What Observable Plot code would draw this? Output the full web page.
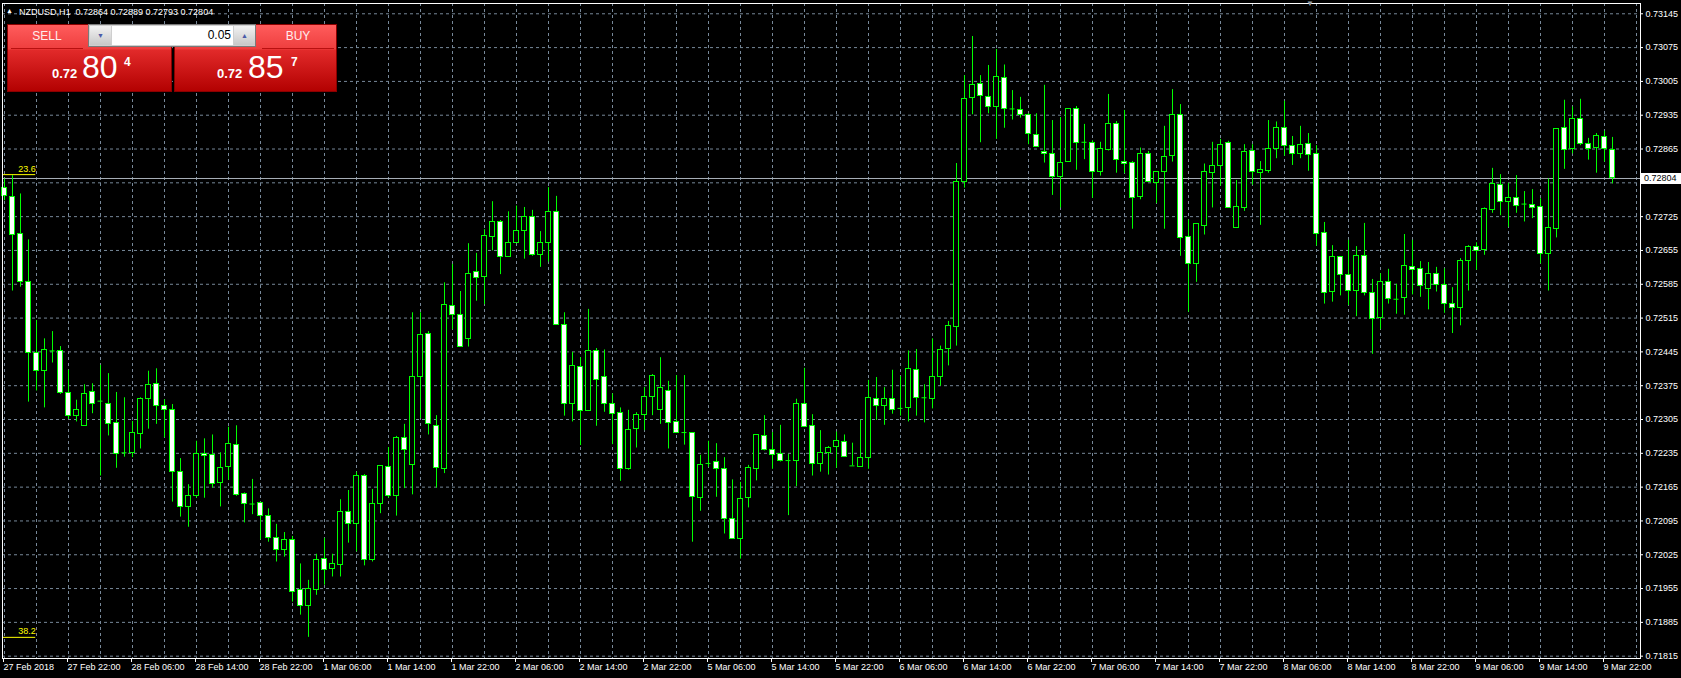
<!DOCTYPE html>
<html>
<head>
<meta charset="utf-8">
<script src="https://cdn.jsdelivr.net/npm/d3@7"></script>
<script src="https://cdn.jsdelivr.net/npm/@observablehq/plot@0.6"></script>
<style>
html,body{margin:0;padding:0;background:#000;}
#wrap{position:relative;width:1681px;height:678px;overflow:hidden;background:#000;font-family:"Liberation Sans",Arial,sans-serif;}
#chart svg{display:block;}
.abs{position:absolute;white-space:pre;}
.title{left:19px;top:6px;color:#fff;font-size:9px;line-height:12px;}
.tri{left:6px;top:7px;color:#fff;font-size:7px;line-height:8px;}
.shift{left:1306px;top:0px;color:#9aa0a8;font-size:8px;line-height:8px;}
.box{position:absolute;top:24px;height:68px;box-sizing:border-box;border:1px solid #8a0000;
 background:linear-gradient(#ff5c5c 0px,#ee3e3e 24px,#e22a2a 25px,#b20000 67px);}
.hdr{position:absolute;top:24px;height:25px;color:#ffecec;font-size:12px;line-height:24px;text-align:center;}
.hline{position:absolute;top:48px;height:1px;background:#b81010;}
.lot{position:absolute;left:88px;top:24px;width:168px;height:23px;box-sizing:border-box;background:#cfcfcf;border:1px solid #7a7a7a;}
.btn{position:absolute;top:26px;width:21px;height:19px;background:linear-gradient(#f2f2f2,#c8c8c8);color:#4a5aa8;font-size:7px;line-height:19px;text-align:center;}
.inp{position:absolute;left:112px;top:26px;width:121px;height:19px;background:#fff;color:#000;font-size:12px;line-height:19px;text-align:right;box-sizing:border-box;padding-right:2px;}
.small{font-size:13px;font-weight:bold;color:#fff;line-height:13px;}
.big{font-size:32px;color:#fff;line-height:32px;}
.sup{font-size:12px;font-weight:bold;color:#fff;line-height:12px;}
</style>
</head>
<body>
<div id="wrap">
  <div id="chart"></div>
  <div class="abs tri">▲</div>
  <div class="abs title">NZDUSD,H1  0.72864 0.72889 0.72793 0.72804</div>
  <div class="abs shift">▼</div>

  <div class="box" style="left:7px;width:165px;"></div>
  <div class="box" style="left:174px;width:163px;"></div>
  <div class="hdr" style="left:7px;width:80px;">SELL</div>
  <div class="hdr" style="left:259px;width:78px;">BUY</div>
  <div class="hline" style="left:11px;width:72px;"></div>
  <div class="hline" style="left:262px;width:72px;"></div>
  <div class="lot"></div>
  <div class="btn" style="left:90px;">▼</div>
  <div class="inp">0.05</div>
  <div class="btn" style="left:234px;">▲</div>

  <div class="abs small" style="left:52px;top:67px;">0.72</div>
  <div class="abs big" style="left:82px;top:51px;">80</div>
  <div class="abs sup" style="left:124px;top:56px;">4</div>
  <div class="abs small" style="left:217px;top:67px;">0.72</div>
  <div class="abs big" style="left:248px;top:51px;">85</div>
  <div class="abs sup" style="left:291px;top:56px;">7</div>
</div>
<script>
// Hourly NZDUSD bars, 27 Feb 2018 14:00 .. 9 Mar 2018 23:00 (bar index 0..201)
const opens = [
0.72785,0.72765,0.72689,0.72589,0.72442,0.72405,0.72447,0.72447,0.72360,0.72313,
0.72291,0.72362,0.72343,0.72338,0.72298,0.72236,0.72236,0.72276,0.72347,0.72379,
0.72333,0.72325,0.72196,0.72124,0.72146,0.72234,0.72232,0.72173,0.72206,0.72253,
0.72150,0.72130,0.72132,0.72105,0.72060,0.72035,0.72055,0.71951,0.71918,0.71951,
0.72017,0.71995,0.72004,0.72114,0.72089,0.72189,0.72015,0.72131,0.72207,0.72146,
0.72267,0.72211,0.72393,0.72483,0.72292,0.72203,0.72540,0.72522,0.72472,0.72611,
0.72600,0.72683,0.72714,0.72642,0.72671,0.72696,0.72725,0.72645,0.72671,0.72735,
0.72501,0.72338,0.72414,0.72323,0.72447,0.72393,0.72338,0.72319,0.72203,0.72286,
0.72315,0.72352,0.72325,0.72364,0.72300,0.72278,0.72277,0.72143,0.72214,0.72217,
0.72203,0.72100,0.72058,0.72143,0.72203,0.72271,0.72242,0.72233,0.72220,0.72220,
0.72338,0.72291,0.72213,0.72236,0.72249,0.72259,0.72209,0.72207,0.72225,0.72348,
0.72333,0.72348,0.72328,0.72329,0.72408,0.72350,0.72348,0.72394,0.72452,0.72496,
0.72797,0.72971,0.73000,0.72973,0.72953,0.73012,0.72948,0.72946,0.72935,0.72895,
0.72859,0.72855,0.72807,0.72838,0.72948,0.72879,0.72878,0.72818,0.72863,0.72917,
0.72839,0.72836,0.72766,0.72855,0.72795,0.72817,0.72851,0.72936,0.72683,0.72627,
0.72706,0.72816,0.72830,0.72878,0.72702,0.72743,0.72861,0.72816,0.72819,0.72866,
0.72909,0.72872,0.72855,0.72876,0.72855,0.72692,0.72569,0.72642,0.72604,0.72572,
0.72644,0.72567,0.72516,0.72590,0.72554,0.72557,0.72621,0.72617,0.72576,0.72606,
0.72584,0.72545,0.72536,0.72634,0.72663,0.72656,0.72739,0.72791,0.72755,0.72764,
0.72751,0.72749,0.72745,0.72648,0.72700,0.72909,0.72865,0.72928,0.72875,0.72868,
0.72890,0.72864];
const highs = [
0.72803,0.72810,0.72772,0.72677,0.72510,0.72472,0.72487,0.72456,0.72407,0.72345,
0.72377,0.72379,0.72417,0.72400,0.72361,0.72350,0.72301,0.72350,0.72405,0.72410,
0.72346,0.72336,0.72224,0.72170,0.72260,0.72265,0.72273,0.72236,0.72289,0.72292,
0.72153,0.72181,0.72134,0.72120,0.72088,0.72071,0.72063,0.72006,0.71972,0.72026,
0.72059,0.72026,0.72139,0.72158,0.72196,0.72191,0.72160,0.72209,0.72247,0.72270,
0.72295,0.72526,0.72526,0.72487,0.72313,0.72588,0.72626,0.72570,0.72669,0.72649,
0.72698,0.72756,0.72717,0.72735,0.72747,0.72744,0.72738,0.72694,0.72785,0.72767,
0.72526,0.72444,0.72433,0.72533,0.72452,0.72449,0.72358,0.72329,0.72324,0.72319,
0.72371,0.72398,0.72433,0.72384,0.72396,0.72396,0.72277,0.72231,0.72260,0.72255,
0.72226,0.72180,0.72175,0.72210,0.72273,0.72313,0.72278,0.72293,0.72233,0.72347,
0.72411,0.72315,0.72282,0.72249,0.72279,0.72273,0.72256,0.72303,0.72386,0.72392,
0.72371,0.72407,0.72394,0.72447,0.72450,0.72377,0.72472,0.72457,0.72508,0.72835,
0.73017,0.73098,0.73017,0.73038,0.73071,0.73039,0.72986,0.72972,0.72938,0.72938,
0.72997,0.72924,0.72930,0.72948,0.72953,0.72916,0.72882,0.72879,0.72978,0.72922,
0.72945,0.72839,0.72867,0.72860,0.72817,0.72912,0.72988,0.72957,0.72718,0.72710,
0.72834,0.72879,0.72885,0.72881,0.72800,0.72874,0.72874,0.72839,0.72924,0.72921,
0.72964,0.72891,0.72912,0.72897,0.72872,0.72713,0.72665,0.72642,0.72676,0.72663,
0.72711,0.72595,0.72607,0.72616,0.72585,0.72688,0.72676,0.72632,0.72630,0.72620,
0.72617,0.72578,0.72638,0.72665,0.72671,0.72743,0.72825,0.72812,0.72794,0.72810,
0.72777,0.72781,0.72762,0.72803,0.72907,0.72966,0.72952,0.72968,0.72887,0.72897,
0.72902,0.72889];
const lows = [
0.72758,0.72571,0.72579,0.72341,0.72364,0.72329,0.72422,0.72357,0.72305,0.72300,
0.72291,0.72317,0.72188,0.72271,0.72204,0.72227,0.72226,0.72244,0.72285,0.72295,
0.72267,0.72134,0.72103,0.72082,0.72142,0.72142,0.72163,0.72124,0.72179,0.72146,
0.72091,0.72108,0.72056,0.72051,0.72010,0.72020,0.71927,0.71900,0.71854,0.71941,
0.71962,0.71979,0.71979,0.72049,0.72031,0.72002,0.72010,0.72110,0.72142,0.72105,
0.72162,0.72149,0.72307,0.72273,0.72163,0.72193,0.72491,0.72456,0.72455,0.72550,
0.72543,0.72654,0.72605,0.72642,0.72671,0.72637,0.72643,0.72620,0.72631,0.72501,
0.72312,0.72300,0.72251,0.72323,0.72291,0.72320,0.72253,0.72177,0.72200,0.72246,
0.72282,0.72313,0.72295,0.72244,0.72278,0.72252,0.72051,0.72115,0.72206,0.72144,
0.72068,0.72058,0.72016,0.72122,0.72178,0.72240,0.72202,0.72217,0.72106,0.72166,
0.72290,0.72188,0.72196,0.72190,0.72204,0.72227,0.72209,0.72207,0.72202,0.72303,
0.72293,0.72316,0.72312,0.72300,0.72312,0.72298,0.72327,0.72374,0.72416,0.72457,
0.72784,0.72936,0.72878,0.72938,0.72885,0.72908,0.72925,0.72929,0.72874,0.72870,
0.72836,0.72769,0.72743,0.72838,0.72821,0.72843,0.72763,0.72809,0.72861,0.72815,
0.72814,0.72699,0.72760,0.72797,0.72752,0.72699,0.72838,0.72643,0.72527,0.72589,
0.72687,0.72743,0.72788,0.72743,0.72702,0.72736,0.72790,0.72707,0.72815,0.72845,
0.72850,0.72831,0.72845,0.72819,0.72664,0.72544,0.72548,0.72561,0.72541,0.72518,
0.72561,0.72440,0.72491,0.72544,0.72523,0.72521,0.72563,0.72558,0.72532,0.72569,
0.72525,0.72483,0.72499,0.72571,0.72614,0.72645,0.72732,0.72727,0.72703,0.72732,
0.72714,0.72721,0.72627,0.72571,0.72681,0.72823,0.72855,0.72872,0.72842,0.72815,
0.72838,0.72793];
const closes = [
0.72767,0.72687,0.72589,0.72442,0.72405,0.72449,0.72447,0.72360,0.72313,0.72324,
0.72358,0.72338,0.72343,0.72296,0.72234,0.72236,0.72277,0.72348,0.72377,0.72333,
0.72325,0.72196,0.72124,0.72146,0.72234,0.72229,0.72172,0.72205,0.72255,0.72149,
0.72131,0.72130,0.72105,0.72060,0.72035,0.72055,0.71948,0.71918,0.71955,0.72015,
0.71993,0.72005,0.72114,0.72088,0.72189,0.72015,0.72131,0.72209,0.72146,0.72267,
0.72241,0.72393,0.72480,0.72296,0.72205,0.72543,0.72522,0.72456,0.72607,0.72598,
0.72685,0.72714,0.72642,0.72671,0.72696,0.72725,0.72645,0.72671,0.72735,0.72501,
0.72338,0.72416,0.72323,0.72447,0.72387,0.72338,0.72317,0.72203,0.72284,0.72315,
0.72352,0.72396,0.72371,0.72298,0.72278,0.72278,0.72144,0.72211,0.72214,0.72203,
0.72100,0.72058,0.72141,0.72205,0.72273,0.72242,0.72232,0.72220,0.72220,0.72338,
0.72290,0.72213,0.72236,0.72246,0.72260,0.72227,0.72209,0.72226,0.72350,0.72333,
0.72347,0.72325,0.72328,0.72409,0.72350,0.72350,0.72394,0.72449,0.72499,0.72797,
0.72969,0.72998,0.72975,0.72953,0.73015,0.72948,0.72948,0.72935,0.72897,0.72870,
0.72854,0.72807,0.72837,0.72948,0.72878,0.72879,0.72818,0.72866,0.72917,0.72843,
0.72834,0.72764,0.72855,0.72797,0.72817,0.72849,0.72936,0.72681,0.72627,0.72710,
0.72818,0.72830,0.72874,0.72743,0.72745,0.72859,0.72818,0.72821,0.72866,0.72909,
0.72872,0.72855,0.72874,0.72853,0.72690,0.72567,0.72642,0.72605,0.72572,0.72644,
0.72567,0.72514,0.72590,0.72555,0.72554,0.72623,0.72615,0.72582,0.72607,0.72584,
0.72545,0.72536,0.72634,0.72663,0.72654,0.72740,0.72793,0.72755,0.72764,0.72748,
0.72751,0.72743,0.72648,0.72702,0.72907,0.72863,0.72928,0.72876,0.72866,0.72892,
0.72866,0.72804];

const yTicks = [0.71815,0.71885,0.71955,0.72025,0.72095,0.72165,0.72235,0.72305,0.72375,0.72445,
                0.72515,0.72585,0.72655,0.72725,0.72795,0.72865,0.72935,0.73005,0.73075,0.73145];
const hiddenYTick = 0.72795;   // covered by the current price tag in the original
const xTickBars = [0,8,16,24,32,40,48,56,64,72,80,88,96,104,112,120,128,136,144,152,160,168,176,184,192,200];
const xTickLabels = ["27 Feb 2018","27 Feb 22:00","28 Feb 06:00","28 Feb 14:00","28 Feb 22:00",
  "1 Mar 06:00","1 Mar 14:00","1 Mar 22:00","2 Mar 06:00","2 Mar 14:00","2 Mar 22:00",
  "5 Mar 06:00","5 Mar 14:00","5 Mar 22:00","6 Mar 06:00","6 Mar 14:00","6 Mar 22:00",
  "7 Mar 06:00","7 Mar 14:00","7 Mar 22:00","8 Mar 06:00","8 Mar 14:00","8 Mar 22:00",
  "9 Mar 06:00","9 Mar 14:00","9 Mar 22:00"];
const fibLabels = ["23.6","38.2"];
const fibPrices = [0.72812,0.71854];
const fibStartBar = -0.25, fibEndBar = 3.9;
const lastPrice = 0.72804;

const bars = opens.map((o,i)=>({i, open:o, high:highs[i], low:lows[i], close:closes[i]}));
const bodies = bars.filter(d=>d.open!==d.close);
const dojis = bars.filter(d=>d.open===d.close);
const fibs = fibLabels.map((label,k)=>({label, price:fibPrices[k], x1:fibStartBar, x2:fibEndBar}));

const GRID = "#778899", GREEN = "#00ff00";
const chart = Plot.plot({
  width: 1681, height: 678,
  marginLeft: 2, marginRight: 41, marginTop: 3, marginBottom: 20,
  style: {background:"#000", color:"#fff", fontFamily:"Liberation Sans, Arial, sans-serif", fontSize:"9px", overflow:"visible"},
  x: {type:"linear", domain:[-0.25, 204.5]},
  y: {type:"linear", domain:[0.718102, 0.731663]},
  marks: [
    Plot.ruleX(d3.range(0, 205, 4), {stroke:GRID, strokeDasharray:"3,3"}),
    Plot.ruleY(yTicks, {stroke:GRID, strokeDasharray:"3,3"}),
    Plot.ruleY([lastPrice], {stroke:"#a8b0b8"}),
    Plot.ruleY(fibs, {y:"price", x1:"x1", x2:"x2", stroke:"#ffff00"}),
    Plot.text(fibs, {x:"x2", y:"price", text:"label", textAnchor:"end", dy:-6, fill:"#ffff00", fontSize:9}),
    Plot.ruleX(bars, {x:"i", y1:"low", y2:"high", stroke:GREEN}),
    Plot.rect(bodies, {x1:d=>d.i-0.3125, x2:d=>d.i+0.3125, y1:"open", y2:"close",
      fill:d=>d.close<d.open?"#ffffff":"#000000", stroke:GREEN, shapeRendering:"crispEdges"}),
    Plot.ruleY(dojis, {y:"open", x1:d=>d.i-0.3125, x2:d=>d.i+0.3125, stroke:GREEN}),
    Plot.frame({stroke:"#fff"}),
    Plot.axisY(yTicks, {anchor:"right", tickSize:2, tickPadding:3,
      tickFormat:d=>d===hiddenYTick ? "" : d.toFixed(5), stroke:"#fff", fill:"#fff"}),
    Plot.axisX(xTickBars, {anchor:"bottom", tickSize:4, tickPadding:1, tickFormat:(d,i)=>xTickLabels[i],
      textAnchor:"start", dx:-1, stroke:"#fff", fill:"#fff"})
  ]
});
document.getElementById("chart").appendChild(chart);

// current price tag on the right axis
const ys = chart.scale("y");
const yy = Math.round(ys.apply(lastPrice));
const svg = d3.select(chart);
const tag = svg.append("g").attr("text-anchor", "start");
tag.append("rect").attr("x", 1641).attr("y", yy - 5).attr("width", 40).attr("height", 11).attr("fill", "#fff");
tag.append("text").attr("x", 1644).attr("y", yy + 0.5).attr("dy", "0.32em").attr("text-anchor", "start")
  .attr("fill", "#000").attr("font-size", 9).text(lastPrice.toFixed(5));
</script>
</body>
</html>
